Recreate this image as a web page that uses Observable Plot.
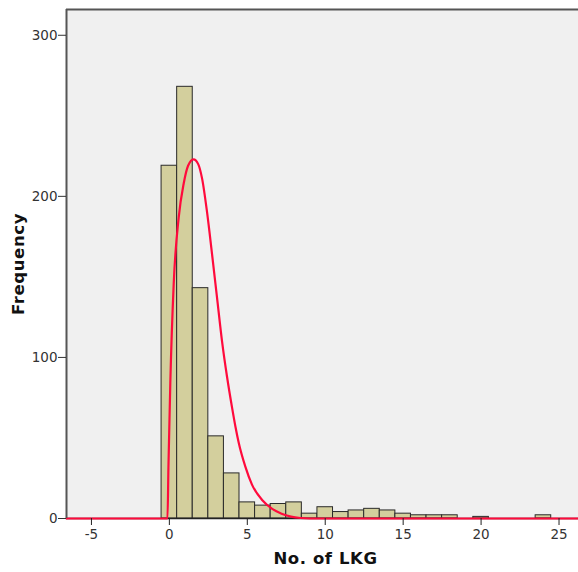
<!DOCTYPE html>
<html>
<head>
<meta charset="utf-8">
<script src="https://cdn.jsdelivr.net/npm/d3@7"></script>
<script src="https://cdn.jsdelivr.net/npm/@observablehq/plot@0.6"></script>
<style>
  html, body { margin: 0; padding: 0; background: #fff; overflow: hidden; }
  g[aria-label$="tick label"] text { font-size: 13.5px; font-family: 'DejaVu Sans', Verdana, sans-serif; fill: #333; }
</style>
</head>
<body>
<div id="chart"></div>
<script>
// Histogram bins (integer-centred, width 1) and their frequencies
const bins = [0, 1, 2, 3, 4, 5, 6, 7, 8, 9, 10, 11, 12, 13, 14, 15, 16, 17, 18, 19, 20, 21, 22, 23, 24];
const counts = [219, 268, 143, 51, 28, 10, 8, 9, 10, 3, 7, 4, 5, 6, 5, 3, 2, 2, 2, 0, 1, 0, 0, 0, 2];

// Fitted curve
const curveX = [-6.6, -0.12, -0.06, 0.06, 0.28, 0.6, 0.92, 1.2, 1.55, 1.85, 2.1, 2.42, 2.74, 3.06, 3.38, 3.7, 4.02, 4.24, 4.45, 4.88, 5.3, 5.95, 6.6, 7.2, 7.8, 8.4, 9.0, 26.3];
const curveY = [0, 0, 32, 84, 146, 187, 208, 219, 223, 220, 211, 190, 164, 137, 110, 88, 69, 57, 47, 32, 21, 11.5, 6, 3, 1.2, 0.3, 0, 0];

const xTicks = [-5, 0, 5, 10, 15, 20, 25];
const yTicks = [0, 100, 200, 300];

const bars = bins.map((b, i) => ({x1: b - 0.5, x2: b + 0.5, y: counts[i]})).filter(d => d.y > 0);
const curve = curveX.map((x, i) => ({x, y: curveY[i]}));

const chart = Plot.plot({
  width: 578,
  height: 572,
  marginLeft: 66,
  marginRight: 0,
  marginTop: 9,
  marginBottom: 54,
  style: {fontFamily: "'DejaVu Sans', Verdana, sans-serif", fontSize: "13px", color: "#333", background: "#fff"},
  x: {domain: [-6.6, 26.25]},
  y: {domain: [0, 316]},
  marks: [
    Plot.frame({fill: "#f0f0f0", stroke: "none"}),
    Plot.rectY(bars, {x1: "x1", x2: "x2", y: "y", fill: "#d3cf9d", stroke: "#2a2a2a", strokeWidth: 1}),
    Plot.ruleY([0], {stroke: "#222", strokeWidth: 1.5}),
    Plot.line(curve, {x: "x", y: "y", curve: "monotone-x", stroke: "#ff0a3c", strokeWidth: 2.2}),
    Plot.ruleX([-6.6], {stroke: "#555", strokeWidth: 2}),
    Plot.ruleY([316], {stroke: "#555", strokeWidth: 2}),
    Plot.axisY({ticks: yTicks, tickSize: 8, tickPadding: 1, label: null, fontSize: 13, tickFormat: d => String(d), stroke: "#333", fill: "#333"}),
    Plot.axisX({ticks: xTicks, tickSize: 7, tickPadding: 4, label: null, fontSize: 13, tickFormat: d => String(d), stroke: "#222", fill: "#333"}),
    Plot.text(["No. of LKG"], {frameAnchor: "bottom", dx: 3, dy: 45, fontSize: 16.5, fontWeight: "bold", fill: "#111", fontFamily: "'DejaVu Sans', Verdana, sans-serif"}),
    Plot.text(["Frequency"], {frameAnchor: "left", textAnchor: "middle", dx: -48, rotate: -90, fontSize: 16.5, fontWeight: "bold", fill: "#111", fontFamily: "'DejaVu Sans', Verdana, sans-serif"})
  ]
});
chart.querySelectorAll("text").forEach(t => {
  if (t.textContent === "No. of LKG" || t.textContent === "Frequency") t.setAttribute("letter-spacing", "0.6");
});
document.getElementById("chart").appendChild(chart);
</script>
</body>
</html>
